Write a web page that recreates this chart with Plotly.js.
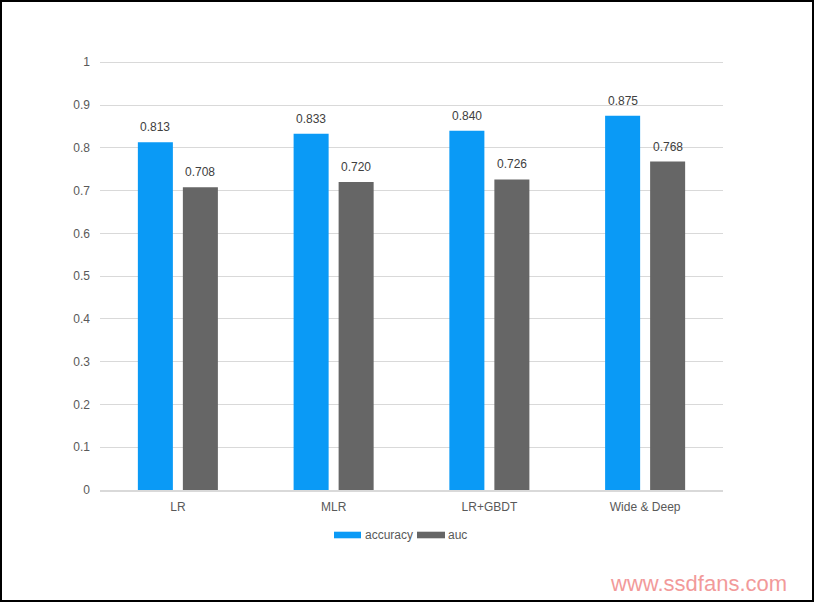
<!DOCTYPE html>
<html>
<head>
<meta charset="utf-8">
<script src="https://cdn.plot.ly/plotly-3.0.1.min.js"></script>
<style>
  html, body { margin: 0; padding: 0; background: #fff; }
  #wrap { position: relative; width: 814px; height: 602px; }
  #chart { width: 814px; height: 602px; }
  #frame { position: absolute; left: 0; top: 0; width: 814px; height: 602px; box-sizing: border-box; border: 2px solid #000; pointer-events: none; }
</style>
</head>
<body>
<div id="wrap">
  <div id="chart"></div>
  <div id="frame"></div>
</div>
<script>
const categories = ['LR', 'MLR', 'LR+GBDT', 'Wide & Deep'];
const accuracy = [0.813, 0.833, 0.840, 0.875];
const auc = [0.708, 0.720, 0.726, 0.768];
const seriesNames = ['accuracy', 'auc'];
const yTickVals = [0, 0.1, 0.2, 0.3, 0.4, 0.5, 0.6, 0.7, 0.8, 0.9, 1];
const yTickText = ['0', '0.1', '0.2', '0.3', '0.4', '0.5', '0.6', '0.7', '0.8', '0.9', '1'];

const blue = '#0a9af6';
const grey = '#666666';
const FONT = 'Liberation Sans, Arial, sans-serif';

const traces = [
  { type: 'bar', name: seriesNames[0], x: categories, y: accuracy, marker: { color: blue }, hoverinfo: 'skip', showlegend: false },
  { type: 'bar', name: seriesNames[1], x: categories, y: auc, marker: { color: grey }, hoverinfo: 'skip', showlegend: false }
];

const annotations = [];
[[accuracy, -22.5], [auc, 22.5]].forEach(([vals, shift]) => {
  vals.forEach((v, i) => {
    annotations.push({
      xref: 'x', yref: 'y', x: categories[i], y: v,
      text: v.toFixed(3), showarrow: false,
      xshift: shift, yanchor: 'bottom', yshift: 6,
      font: { family: FONT, size: 12, color: '#404040' }
    });
  });
});

// plot area: top margin 58, height 432 -> paper y = (490 - py) / 432
const H = 432;
const py = p => (490 - p) / H;
const px = p => (p - 100) / 623;
const shapes = [];
const legendItems = [
  { name: seriesNames[0], color: blue, x0: px(334), x1: px(361), tx: px(363) },
  { name: seriesNames[1], color: grey, x0: px(417), x1: px(445), tx: px(446) }
];
legendItems.forEach(it => {
  shapes.push({ type: 'rect', xref: 'paper', yref: 'paper', x0: it.x0, x1: it.x1, y0: py(538.3), y1: py(531.7),
    fillcolor: it.color, line: { width: 0 } });
  annotations.push({ xref: 'paper', yref: 'paper', x: it.tx, y: py(535), xanchor: 'left', yanchor: 'middle',
    text: it.name, showarrow: false, font: { family: FONT, size: 12, color: '#595959' } });
});

// watermark text
annotations.push({
  xref: 'paper', yref: 'paper', x: 0.96, y: py(583), xanchor: 'center', yanchor: 'middle',
  text: 'www.ssdfans.com', showarrow: false,
  font: { family: FONT, size: 22, color: '#f29a9a' }
});

const layout = {
  width: 814, height: 602,
  margin: { l: 100, r: 91, t: 58, b: 112 },
  paper_bgcolor: '#fff', plot_bgcolor: '#fff',
  font: { family: FONT, size: 12, color: '#595959' },
  barmode: 'group', bargap: 0.422, bargroupgap: 0.222,
  xaxis: {
    type: 'category', showgrid: false, showline: true, linecolor: '#d9d9d9', linewidth: 1.5,
    ticks: '', tickfont: { size: 12, color: '#595959' }, ticklabelstandoff: 5
  },
  yaxis: {
    range: [0, 1.01], tickvals: yTickVals, ticktext: yTickText,
    showgrid: true, gridcolor: '#d9d9d9', gridwidth: 1, zeroline: false, showline: false,
    ticks: '', tickfont: { size: 12, color: '#595959' }, ticklabelstandoff: 9
  },
  showlegend: false,
  shapes: shapes,
  annotations: annotations
};

Plotly.newPlot('chart', traces, layout, { displayModeBar: false, staticPlot: true });
</script>
</body>
</html>
